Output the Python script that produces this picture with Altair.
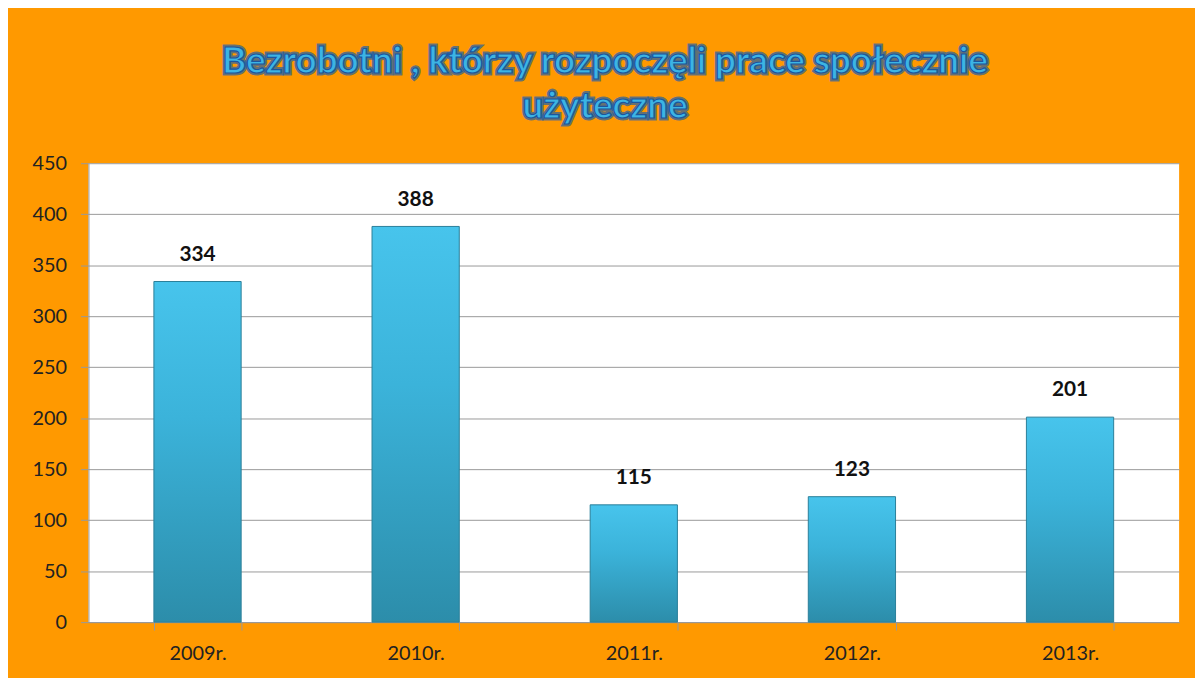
import altair as alt
import pandas as pd

years = ["2009r.", "2010r.", "2011r.", "2012r.", "2013r."]
values = [334, 388, 115, 123, 201]
title_lines = ["Bezrobotni , którzy rozpoczęli prace społecznie", "użyteczne"]

df = pd.DataFrame({"year": years, "value": values})

W, H = 1098, 462
ORANGE = "#FF9900"
FONT = "Lato"

x_enc = alt.X("year:N", sort=years, title=None,
              scale=alt.Scale(paddingInner=0.6, paddingOuter=0.3),
              axis=alt.Axis(labelAngle=0, labelFontSize=20, labelFont=FONT,
                            labelColor="#222222", labelPadding=14,
                            domainColor="#999999", tickColor="#999999",
                            tickSize=8, tickBand="extent", grid=False))
y_enc = alt.Y("value:Q", title=None,
              scale=alt.Scale(domain=[0, 450]),
              axis=alt.Axis(values=list(range(0, 451, 50)), labelFontSize=20,
                            labelFont=FONT, labelColor="#222222", labelPadding=14,
                            domainColor="#999999", tickColor="#999999", tickSize=8,
                            gridColor="#999999", gridWidth=1))

base = alt.Chart(df).encode(x=x_enc, y=y_enc)

bars = base.mark_bar(
    color=alt.Gradient(
        gradient="linear",
        stops=[alt.GradientStop(color="#47C4EC", offset=0),
               alt.GradientStop(color="#3BB3DA", offset=0.4),
               alt.GradientStop(color="#2C8DAA", offset=1)],
        x1=0, x2=0, y1=0, y2=1),
    stroke="#2A7F99", strokeWidth=1
)

labels = base.mark_text(dy=-17, fontSize=21, fontWeight="bold", font=FONT,
                        color="#111111", baseline="bottom").encode(text="value:Q")


def title_layer(text, ypos):
    d = pd.DataFrame({"t": [text]})
    glow = alt.Chart(d).mark_text(
        font=FONT, fontSize=37, fontWeight="bold", color="#1F5FA8",
        stroke="#1F5FA8", strokeWidth=5, strokeOpacity=0.7, clip=False,
        baseline="middle", align="center"
    ).encode(text="t:N", x=alt.value(520), y=alt.value(ypos))
    fill = alt.Chart(d).mark_text(
        font=FONT, fontSize=37, fontWeight="bold", color="#3CB4E4",
        stroke="#1A56A0", strokeWidth=1.2, clip=False,
        baseline="middle", align="center"
    ).encode(text="t:N", x=alt.value(520), y=alt.value(ypos))
    return [glow, fill]


title_marks = title_layer(title_lines[0], -102) + title_layer(title_lines[1], -57)

chart = alt.layer(bars, labels, *title_marks).properties(
    width=W, height=H,
    background=ORANGE,
    padding={"left": 81, "top": 154, "right": 16, "bottom": 54},
    autosize=alt.AutoSizeParams(type="none"),
).configure_view(fill="white", stroke=None)

chart.save("out.html", embed_options={"renderer": "svg", "actions": False})
